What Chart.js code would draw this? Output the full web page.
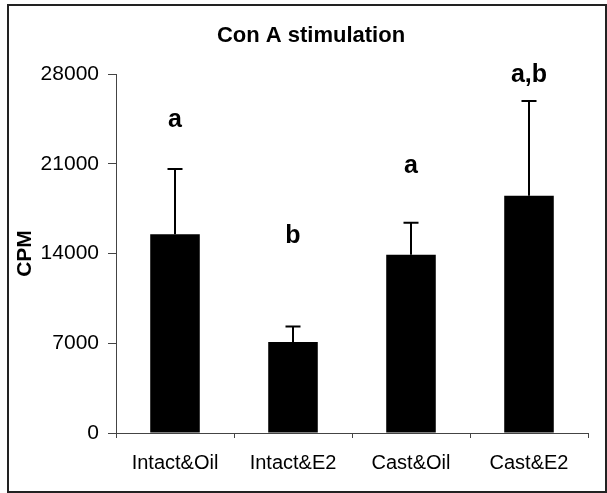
<!DOCTYPE html>
<html>
<head>
<meta charset="utf-8">
<script src="https://cdn.jsdelivr.net/npm/chart.js@4/dist/chart.umd.min.js"></script>
<style>
html, body { margin: 0; padding: 0; background: #fff; }
#wrap { width: 607px; height: 493px; position: relative; }
</style>
</head>
<body>
<div id="wrap"><canvas id="cpmChart"></canvas></div>
<script>
// Con A stimulation - CPM per group
var groups = ['Intact&Oil', 'Intact&E2', 'Cast&Oil', 'Cast&E2'];
var meanCpm = [15500, 7100, 13900, 18500];
var errorTop = [20600, 8300, 16400, 25900];
var sigLetters = ['a', 'b', 'a', 'a,b'];
var letterLevel = [23850, 14800, 20270, 27370];
var yTicks = [0, 7000, 14000, 21000, 28000];

var FONT = "'Liberation Sans', Arial, sans-serif";

// error bars (upper only) + significance letters
var errorBars = {
    id: 'errorBars',
    afterDatasetsDraw: function (chart) {
        var ctx = chart.ctx;
        var meta = chart.getDatasetMeta(0);
        var y = chart.scales.y;
        ctx.save();
        ctx.strokeStyle = '#000';
        ctx.lineWidth = 2;
        meta.data.forEach(function (bar, i) {
            var top = y.getPixelForValue(errorTop[i]);
            ctx.beginPath();
            ctx.moveTo(bar.x, bar.y);
            ctx.lineTo(bar.x, top);
            ctx.moveTo(bar.x - 7.5, top);
            ctx.lineTo(bar.x + 7.5, top);
            ctx.stroke();
        });
        ctx.fillStyle = '#000';
        ctx.font = 'bold 25px ' + FONT;
        ctx.textAlign = 'center';
        ctx.textBaseline = 'alphabetic';
        meta.data.forEach(function (bar, i) {
            ctx.fillText(sigLetters[i], bar.x, y.getPixelForValue(letterLevel[i]));
        });
        ctx.restore();
    }
};

// title and outer frame
var frameAndTitle = {
    id: 'frameAndTitle',
    afterDraw: function (chart) {
        var ctx = chart.ctx;
        ctx.save();
        ctx.strokeStyle = '#222';
        ctx.lineWidth = 2;
        ctx.strokeRect(8, 5, 598, 487);
        ctx.fillStyle = '#000';
        ctx.font = 'bold 22px ' + FONT;
        ctx.textAlign = 'center';
        ctx.textBaseline = 'alphabetic';
        ctx.fillText('Con A stimulation', 311, 42);
        ctx.restore();
    }
};

var ctx = document.getElementById('cpmChart').getContext('2d');
new Chart(ctx, {
    type: 'bar',
    data: {
        labels: groups,
        datasets: [{
            label: 'CPM',
            data: meanCpm,
            backgroundColor: '#000',
            borderWidth: 0,
            categoryPercentage: 1,
            barPercentage: 0.42
        }]
    },
    options: {
        responsive: true,
        maintainAspectRatio: false,
        animation: false,
        layout: { padding: { top: 74, right: 19, bottom: 0, left: 0 } },
        plugins: {
            legend: { display: false },
            tooltip: { enabled: false }
        },
        scales: {
            x: {
                grid: { drawOnChartArea: false, tickLength: 5, color: '#444', offset: true },
                border: { color: '#444', width: 1 },
                ticks: { color: '#000', font: { family: FONT, size: 20 }, padding: 13, maxRotation: 0 },
                afterFit: function (scale) { scale.height = 60; }
            },
            y: {
                min: 0,
                max: 28000,
                afterBuildTicks: function (scale) {
                    scale.ticks = yTicks.map(function (v) { return { value: v }; });
                },
                grid: { drawOnChartArea: false, tickLength: 8, color: '#444' },
                border: { color: '#444', width: 1 },
                ticks: {
                    color: '#000',
                    font: { family: FONT, size: 21 },
                    padding: 9,
                    callback: function (value) { return String(value); }
                },
                title: {
                    display: true,
                    text: 'CPM',
                    color: '#000',
                    font: { family: FONT, size: 21, weight: 'bold' },
                    padding: { top: 13, bottom: 0 }
                },
                afterFit: function (scale) { scale.width = 116; }
            }
        }
    },
    plugins: [errorBars, frameAndTitle]
});
</script>
</body>
</html>
